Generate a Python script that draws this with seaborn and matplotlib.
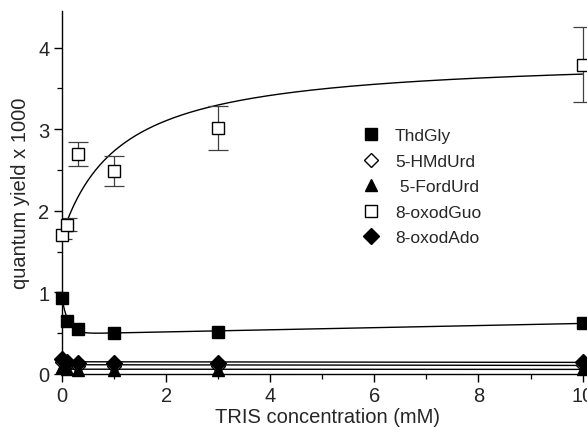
import numpy as np
import pandas as pd
import seaborn as sns
import matplotlib.pyplot as plt
from matplotlib.ticker import MultipleLocator

# TRIS concentrations (mM)
tris = [0, 0.1, 0.3, 1, 3, 10]

# quantum yield x 1000
thdgly = [0.93, 0.65, 0.55, 0.50, 0.51, 0.62]
hmdurd = [0.15, 0.11, 0.10, 0.10, 0.10, 0.11]
fordurd = [0.08, 0.06, 0.05, 0.05, 0.05, 0.06]
oxodguo = [1.70, 1.83, 2.70, 2.49, 3.01, 3.79]
oxodguo_err = [0.05, 0.08, 0.15, 0.18, 0.27, 0.46]
oxodado = [0.19, 0.15, 0.14, 0.13, 0.13, 0.15]

# fitted curve parameters (estimated from the drawn fits)
guo_y0, guo_amp, guo_k = 1.70, 2.20, 1.13
gly_base, gly_slope, gly_amp, gly_tau = 0.49, 0.013, 0.44, 0.12

sns.set_style("ticks")
plt.rcParams["font.family"] = ["Liberation Sans", "DejaVu Sans"]

fig = plt.figure(figsize=(5.87, 4.39), dpi=100)
ax = fig.add_axes([62 / 587, 64 / 439, 531 / 587, 363 / 439])

xs = np.linspace(0, 10, 400)
fits = pd.DataFrame({
    "x": np.concatenate([xs] * 5),
    "y": np.concatenate([
        guo_y0 + guo_amp * xs / (guo_k + xs),
        gly_base + gly_slope * xs + gly_amp * np.exp(-xs / gly_tau),
        np.polyval(np.polyfit(tris, oxodado, 1), xs),
        np.polyval(np.polyfit(tris, hmdurd, 1), xs),
        np.polyval(np.polyfit(tris, fordurd, 1), xs),
    ]),
    "fit": np.repeat(["guo", "gly", "ado", "hm", "ford"], len(xs)),
})
sns.lineplot(data=fits, x="x", y="y", units="fit", estimator=None,
             color="black", lw=1.0, ax=ax, legend=False)

ax.errorbar(tris, oxodguo, yerr=oxodguo_err, fmt="none", ecolor="0.25",
            elinewidth=0.9, capsize=7, capthick=0.9, zorder=2)

series = [
    ("ThdGly", thdgly, "s", "black", 8),
    ("5-HMdUrd", hmdurd, "D", "white", 7),
    (" 5-FordUrd", fordurd, "^", "black", 9),
    ("8-oxodGuo", oxodguo, "s", "white", 8),
    ("8-oxodAdo", oxodado, "D", "black", 8),
]
for name, vals, mk, fc, ms in series:
    ax.plot(tris, vals, linestyle="none", marker=mk, mfc=fc, mec="black",
            mew=1.0, ms=ms, label=name, clip_on=False, zorder=3)

ax.set_xlim(0, 10.2)
ax.set_ylim(0, 4.45)
ax.xaxis.set_major_locator(MultipleLocator(2))
ax.xaxis.set_minor_locator(MultipleLocator(1))
ax.yaxis.set_major_locator(MultipleLocator(1))
ax.yaxis.set_minor_locator(MultipleLocator(0.5))
ax.tick_params(which="major", length=6, width=1.0, labelsize=14.5,
               color="black", pad=3)
ax.tick_params(which="minor", length=3.5, width=0.9, color="black")
for s in ["top", "right"]:
    ax.spines[s].set_visible(False)
for s in ["left", "bottom"]:
    ax.spines[s].set_color("black")
    ax.spines[s].set_linewidth(1.0)

ax.set_xlabel("TRIS concentration (mM)", fontsize=14.5, labelpad=1)
ax.set_ylabel("quantum yield x 1000", fontsize=14.5, labelpad=6)

ax.legend(loc="upper left", bbox_to_anchor=(355 / 587, 1 - 122 / 439),
          bbox_transform=fig.transFigure, frameon=False, fontsize=12.5,
          handlelength=1.0, handletextpad=0.9, labelspacing=0.6,
          borderaxespad=0)

fig.savefig("out.png", dpi=100)
